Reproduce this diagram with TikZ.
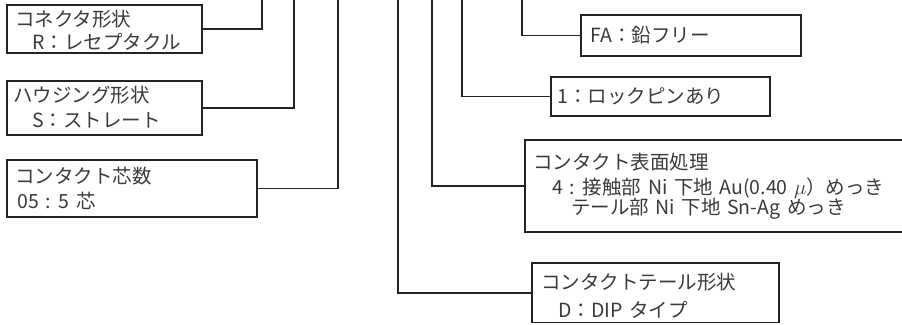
\documentclass[tikz,border=0pt]{standalone}
\usepackage{fontspec}
\newfontfamily\jpfont[WordSpace={1.5}]{Noto Sans CJK JP}
\definecolor{linec}{HTML}{232323}
\definecolor{textc}{HTML}{3A3A3A}
\begin{document}
\begin{tikzpicture}[x=1pt,y=-1pt,
  box/.style={draw=linec,line width=1.5pt,inner sep=0pt},
  lbl/.style={anchor=base west,inner sep=0pt,text=textc,font=\jpfont\fontsize{19.5}{22}\selectfont},
  wire/.style={draw=linec,line width=1.5pt}]
\useasboundingbox (0,0) rectangle (902,324);
% boxes
\node[box,minimum width=195pt,minimum height=48pt] (b1) at (104.5,29) {};
\node[box,minimum width=195pt,minimum height=54pt] (b2) at (104.5,108) {};
\node[box,minimum width=250pt,minimum height=57pt] (b3) at (132,188.5) {};
\node[box,minimum width=220pt,minimum height=41pt] (bfa) at (691,35.5) {};
\node[box,minimum width=219pt,minimum height=39pt] (blk) at (660.5,96.5) {};
\node[inner sep=0pt,minimum width=380pt,minimum height=92pt] (bsf) at (715,186) {};
\draw[wire] (bsf.north east) -- (bsf.north west) -- (bsf.south west) -- (bsf.south east);
\node[box,minimum width=247pt,minimum height=59.5pt] (bdp) at (655.5,292.75) {};
% texts
\node[lbl] (t1a) at (15,26.5) {コネクタ形状};
\node[lbl] (t1b) at (32,49) {R：レセプタクル};
\node[lbl] (t2a) at (13,102.5) {ハウジング形状};
\node[lbl] (t2b) at (32,127) {S：ストレート};
\node[lbl] (t3a) at (15,183.5) {コンタクト芯数};
\node[lbl] (t3b) at (17,208.5) {05 : 5 芯};
\node[lbl] (tfa) at (590,42.5) {FA：鉛フリー};
\node[lbl] (tlk) at (557,103) {1：ロックピンあり};
\node[lbl] (tsa) at (533,169) {コンタクト表面処理};
\node[lbl] (tsb) at (552,194) {4 : 接触部 Ni 下地 Au(0.40 $\mu$）めっき};
\node[lbl] (tsc) at (571,214) {テール部 Ni 下地 Sn-Ag めっき};
\node[lbl] (tda) at (541,289) {コンタクトテール形状};
\node[lbl] (tdb) at (558,317) {D：DIP タイプ};
% top ends
\coordinate (e1) at (262,0);
\coordinate (e2) at (294,0);
\coordinate (e3) at (338,0);
\coordinate (e4) at (398,0);
\coordinate (e5) at (432,0);
\coordinate (e6) at (462,0);
\coordinate (e7) at (522,0);
% connectors
\draw[wire] (b1.east) -| (e1);
\draw[wire] (b2.east) -| (e2);
\draw[wire] (b3.east) -| (e3);
\draw[wire] (bdp.west) -| (e4);
\draw[wire] (bsf.west) -| (e5);
\draw[wire] (blk.west) -| (e6);
\draw[wire] (bfa.west) -| (e7);
\end{tikzpicture}
\end{document}
